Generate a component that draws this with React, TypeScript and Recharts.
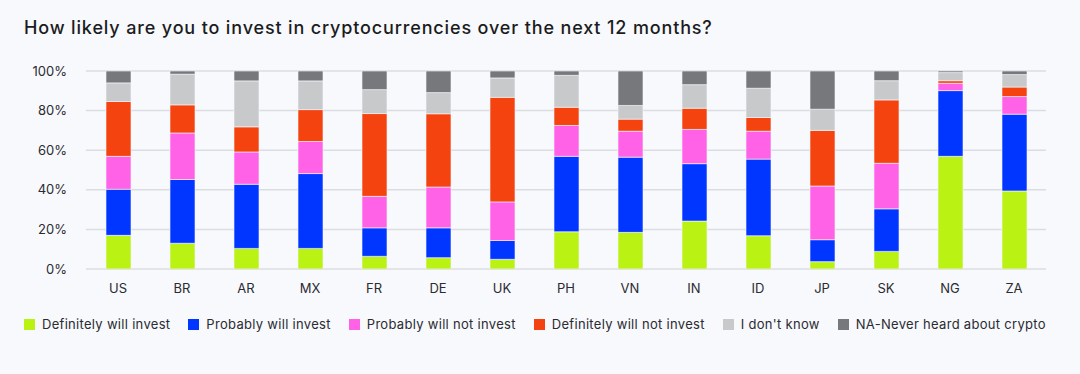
import { BarChart, Bar, XAxis, YAxis, CartesianGrid, Legend } from "recharts";

const countries = ["US", "BR", "AR", "MX", "FR", "DE", "UK", "PH", "VN", "IN", "ID", "JP", "SK", "NG", "ZA"];

// share of respondents (%), bottom to top
const definitelyWill = [17, 13, 10.4, 10.4, 6.4, 5.7, 4.9, 18.8, 18.5, 24.2, 16.8, 3.7, 8.9, 56.9, 39.4];
const probablyWill = [23.3, 32.2, 32.4, 37.8, 14.4, 15.1, 9.5, 38.1, 38, 29, 38.7, 11.1, 21.5, 33.2, 38.8];
const probablyNot = [16.6, 23.5, 16.3, 16.2, 15.9, 20.6, 19.5, 15.6, 13.1, 17.3, 14.1, 27.1, 23, 3.7, 8.9];
const definitelyNot = [27.7, 14.2, 12.7, 16.1, 41.8, 37, 52.8, 9.2, 6.1, 10.7, 6.9, 28.1, 32, 1.3, 4.8];
const dontKnow = [9.4, 15.5, 23.2, 14.5, 12.1, 10.7, 9.8, 16.1, 6.9, 11.9, 14.8, 10.7, 9.7, 4.1, 6.3];
const neverHeard = [6, 1.8, 5, 5, 9.4, 10.9, 3.5, 2.2, 17.4, 6.9, 8.7, 19.3, 4.9, 0.8, 1.8];

const yTicks = [0, 20, 40, 60, 80, 100];

const series = [
  { key: "definitelyWill", name: "Definitely will invest", color: "#b9f213", values: definitelyWill },
  { key: "probablyWill", name: "Probably will invest", color: "#0036ff", values: probablyWill },
  { key: "probablyNot", name: "Probably will not invest", color: "#ff62e6", values: probablyNot },
  { key: "definitelyNot", name: "Definitely will not invest", color: "#f4430f", values: definitelyNot },
  { key: "dontKnow", name: "I don't know", color: "#c8c9cb", values: dontKnow },
  { key: "neverHeard", name: "NA-Never heard about crypto", color: "#77787c", values: neverHeard },
];

const data = countries.map((country, i) => {
  const row: Record<string, string | number> = { country };
  series.forEach((s) => {
    row[s.key] = s.values[i];
  });
  return row;
});

const FONT = "Inter, 'DejaVu Sans', sans-serif";
const BG = "#f7f9fd";
const TEXT = "#2b2b30";

function LegendRow() {
  return (
    <div
      style={{
        display: "flex",
        height: 20,
        alignItems: "center",
        paddingLeft: 24,
        fontFamily: FONT,
        fontSize: 13,
        letterSpacing: 0.3,
        color: TEXT,
        whiteSpace: "nowrap",
      }}
    >
      {series.map((s) => (
        <div key={s.key} style={{ display: "flex", alignItems: "center", marginRight: 18 }}>
          <span style={{ width: 11, height: 11, background: s.color, display: "inline-block", marginRight: 7 }} />
          <span>{s.name}</span>
        </div>
      ))}
    </div>
  );
}

export default function App() {
  return (
    <div style={{ position: "absolute", left: 0, top: 0, width: 1080, height: 374, background: BG }}>
      <div
        style={{
          position: "absolute",
          left: 24,
          top: 17,
          fontFamily: FONT,
          fontSize: 18,
          fontWeight: 500,
          letterSpacing: 0.85,
          color: "#1c1c20",
          whiteSpace: "nowrap",
        }}
      >
        How likely are you to invest in cryptocurrencies over the next 12 months?
      </div>
      <BarChart
        width={1080}
        height={374}
        data={data}
        margin={{ top: 71, right: 34, left: 26, bottom: 40 }}
        barSize={25}
        style={{ fontFamily: FONT }}
      >
        <CartesianGrid vertical={false} stroke="#dcdde2" strokeWidth={1.5} />
        <XAxis
          dataKey="country"
          axisLine={false}
          tickLine={false}
          tickSize={0}
          tickMargin={15}
          height={45}
          interval={0}
          tick={{ fontSize: 13, fill: TEXT }}
        />
        <YAxis
          width={60}
          domain={[0, 100]}
          ticks={yTicks}
          allowDataOverflow
          axisLine={false}
          tickLine={false}
          tickSize={0}
          tickMargin={19}
          tickFormatter={(v) => `${v}%`}
          tick={{ fontSize: 13, fill: TEXT }}
        />
        <Legend verticalAlign="bottom" wrapperStyle={{ left: 0, width: 1080 }} content={() => <LegendRow />} />
        {series.map((s) => (
          <Bar
            key={s.key}
            dataKey={s.key}
            name={s.name}
            stackId="a"
            fill={s.color}
            stroke={BG}
            strokeWidth={0.6}
            isAnimationActive={false}
          />
        ))}
      </BarChart>
    </div>
  );
}
